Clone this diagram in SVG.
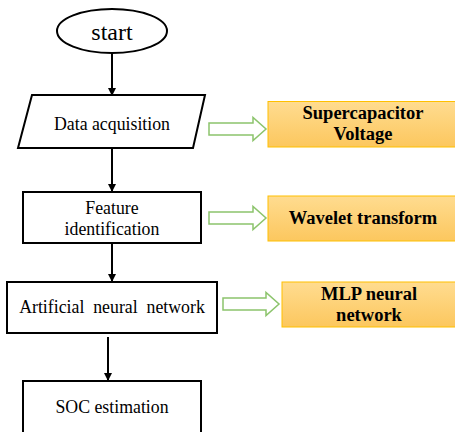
<svg xmlns="http://www.w3.org/2000/svg" width="455" height="432" viewBox="0 0 455 432" font-family="'Liberation Serif', 'DejaVu Serif', serif">
<style>
.n{fill:#fff;stroke:#000;stroke-width:2}
.t{font-size:17.8px;fill:#000;text-anchor:middle}
.b{font-size:18.5px;font-weight:bold;fill:#000;text-anchor:middle}
.o{fill:url(#og);stroke:#ffc000;stroke-width:1}
.c{stroke:#000;stroke-width:2;fill:none;marker-end:url(#ah)}
.h{fill:#fff;stroke:#8cc46c;stroke-width:1.5}
</style>
<defs>
<linearGradient id="og" x1="0" y1="0" x2="0" y2="1">
<stop offset="0" stop-color="#ffdc90"/>
<stop offset="1" stop-color="#fcc75e"/>
</linearGradient>
<marker id="ah" markerWidth="8" markerHeight="8" refX="7" refY="4" orient="auto" markerUnits="userSpaceOnUse">
<path d="M0,0 L8,4 L0,8 Z" fill="#000"/>
</marker>
</defs>
<rect width="455" height="432" fill="#fff"/>
<g id="connectors">
<line class="c" x1="112" y1="53" x2="112" y2="95"/>
<line class="c" x1="112" y1="148" x2="112" y2="191"/>
<line class="c" x1="112" y1="243" x2="112" y2="281"/>
<line class="c" x1="108" y1="337" x2="108" y2="380"/>
<path class="h" d="M209,123 H253 V117.5 L266,129 L253,140.5 V135 H209 Z"/>
<path class="h" d="M209,212 H253 V206.5 L266,218 L253,229.5 V224 H209 Z"/>
<path class="h" d="M223,298 H266 V292.5 L279,304 L266,315.5 V310 H223 Z"/>
</g>
<g id="start">
<ellipse class="n" cx="112" cy="31" rx="55" ry="22"/>
<text class="t" x="112" y="40" style="font-size:24px">start</text>
</g>
<g id="data-acquisition">
<polygon class="n" points="32,95 205,95 193,148 18,148"/>
<text class="t" x="112" y="130">Data acquisition</text>
</g>
<g id="feature-identification">
<rect class="n" x="23" y="192" width="178" height="51"/>
<text class="t" x="112" y="214">Feature</text>
<text class="t" x="112" y="235">identification</text>
</g>
<g id="ann">
<rect class="n" x="7" y="282" width="210" height="51"/>
<text class="t" x="112" y="313" xml:space="preserve">Artificial  neural  network</text>
</g>
<g id="soc">
<rect class="n" x="23" y="381" width="178" height="52"/>
<text class="t" x="112" y="413">SOC estimation</text>
</g>
<g id="supercapacitor">
<rect class="o" x="268" y="101.5" width="190" height="45.5"/>
<text class="b" x="363" y="119">Supercapacitor</text>
<text class="b" x="363" y="140">Voltage</text>
</g>
<g id="wavelet">
<rect class="o" x="268" y="196" width="190" height="45"/>
<text class="b" x="363" y="224">Wavelet transform</text>
</g>
<g id="mlp">
<rect class="o" x="282" y="282" width="176" height="45"/>
<text class="b" x="369" y="300">MLP neural</text>
<text class="b" x="369" y="321">network</text>
</g>
</svg>
